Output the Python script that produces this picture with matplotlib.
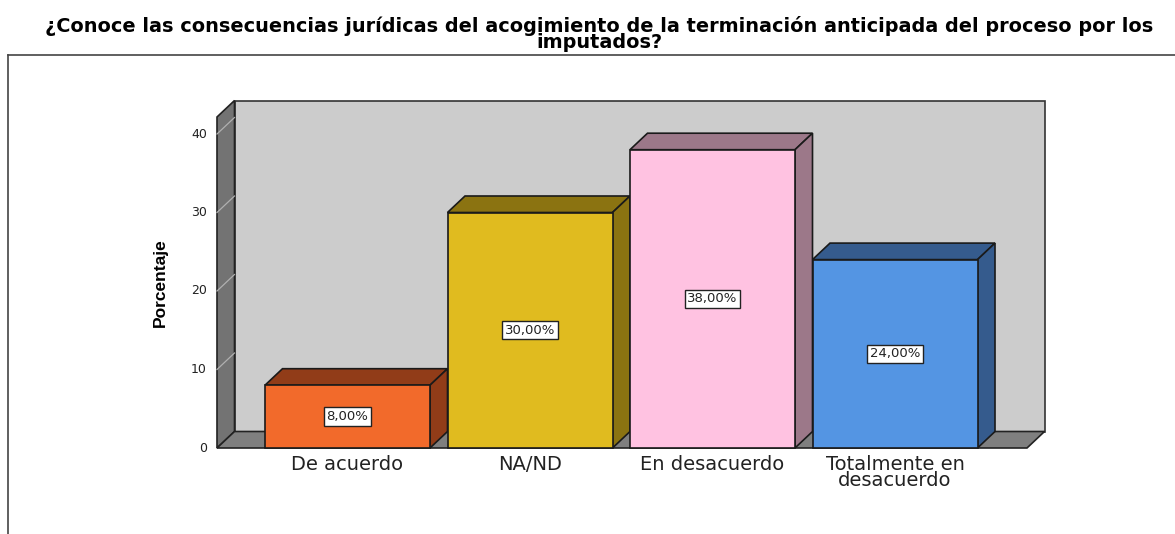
import matplotlib
matplotlib.use("Agg")
import matplotlib.pyplot as plt
from matplotlib.patches import Polygon, Rectangle
from matplotlib.lines import Line2D

# ---- data ----
title = ("¿Conoce las consecuencias jurídicas del acogimiento de la terminación anticipada del proceso por los\n"
         "imputados?")
categories = ["De acuerdo", "NA/ND", "En desacuerdo", "Totalmente en\ndesacuerdo"]
values = [8.0, 30.0, 38.0, 24.0]
value_labels = ["8,00%", "30,00%", "38,00%", "24,00%"]
yticks = [0, 10, 20, 30, 40]
ylabel = "Porcentaje"
front_colors = ["#F26A2B", "#E0BB1F", "#FFC2E1", "#5495E3"]
dark_colors = ["#913C18", "#8B7311", "#9C7889", "#355B8D"]

# ---- layout (pixels) ----
W, H = 1175, 534
fig = plt.figure(figsize=(W / 100, H / 100), dpi=100)
left_px, right_px, top_px, bottom_px = 217, 1027, 117, 448
ax = fig.add_axes([left_px / W, 1 - bottom_px / H,
                   (right_px - left_px) / W, (bottom_px - top_px) / H])
px_per_cat = 182.5
xmin = -(347.5 - left_px) / px_per_cat
xmax = xmin + (right_px - left_px) / px_per_cat
px_per_unit = 78.5 / 10
ymax = (bottom_px - top_px) / px_per_unit
ax.set_xlim(xmin, xmax)
ax.set_ylim(0, ymax)
ax.axis("off")

ddx = 17.5 / px_per_cat
ddy = 16.5 / px_per_unit
bw = 165 / px_per_cat
ec = "#1a1a1a"

# back wall
ax.add_patch(Polygon([(xmin + ddx, ddy), (xmax + ddx, ddy), (xmax + ddx, ymax + ddy),
                      (xmin + ddx, ymax + ddy)], closed=True, facecolor="#CCCCCC",
                     edgecolor="#333333", lw=1.2, clip_on=False, zorder=1))
# left wall
ax.add_patch(Polygon([(xmin, 0), (xmin + ddx, ddy), (xmin + ddx, ymax + ddy), (xmin, ymax)],
                     closed=True, facecolor="#737373", edgecolor="#222222", lw=1.2,
                     clip_on=False, zorder=2))
# floor
ax.add_patch(Polygon([(xmin, 0), (xmax, 0), (xmax + ddx, ddy), (xmin + ddx, ddy)],
                     closed=True, facecolor="#7F7F7F", edgecolor="#222222", lw=1.2,
                     clip_on=False, zorder=2))
# gridlines on left wall
for t in yticks[1:]:
    ax.add_line(Line2D([xmin, xmin + ddx], [t, t + ddy], color="#B0B0B0", lw=0.9,
                       clip_on=False, zorder=3))

# y tick labels
for t in yticks:
    ax.text(xmin - 10 / px_per_cat, t, str(t), ha="right", va="center", fontsize=9,
            family="DejaVu Sans", color="#222222", clip_on=False)

# bars
for i, (v, fc, dc) in enumerate(zip(values, front_colors, dark_colors)):
    x0 = i - bw / 2
    x1 = i + bw / 2
    ax.add_patch(Polygon([(x0, v), (x1, v), (x1 + ddx, v + ddy), (x0 + ddx, v + ddy)],
                         closed=True, facecolor=dc, edgecolor=ec, lw=1.2, zorder=5,
                         clip_on=False))
    ax.add_patch(Polygon([(x1, 0), (x1 + ddx, ddy), (x1 + ddx, v + ddy), (x1, v)],
                         closed=True, facecolor=dc, edgecolor=ec, lw=1.2, zorder=5,
                         clip_on=False))
    ax.add_patch(Rectangle((x0, 0), bw, v, facecolor=fc, edgecolor=ec, lw=1.2, zorder=6,
                           clip_on=False))
    ax.text(i, v / 2, value_labels[i], ha="center", va="center", fontsize=9.5,
            family="DejaVu Sans", zorder=7, color="#222222",
            bbox=dict(boxstyle="square,pad=0.2", facecolor="white", edgecolor="#222222",
                      lw=1.0))
    ax.text(i, -0.85, categories[i], ha="center", va="top", fontsize=14,
            family="DejaVu Sans", color="#222222", linespacing=0.8, clip_on=False)

# y label
fig.text(160 / W, 1 - 283 / H, ylabel, rotation=90, ha="center", va="center",
         fontsize=12.5, fontweight="bold",
         family=["Liberation Sans Narrow", "Liberation Sans", "DejaVu Sans"])

# title
fig.text(599 / W, 1 - 33.5 / H, title, ha="center", va="center", fontsize=13.9,
         fontweight="bold", family="DejaVu Sans", linespacing=0.8)

# outer frame (left and top lines)
fig.add_artist(Line2D([8 / W, 8 / W], [0, 1 - 55 / H], transform=fig.transFigure,
                      color="#444444", lw=1.2))
fig.add_artist(Line2D([8 / W, 1], [1 - 55 / H, 1 - 55 / H], transform=fig.transFigure,
                      color="#444444", lw=1.2))

fig.savefig("out.png", dpi=100, facecolor="white")
